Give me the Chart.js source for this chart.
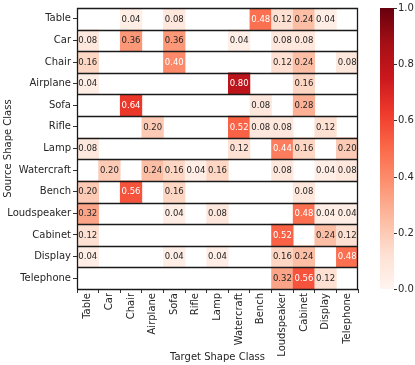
<!DOCTYPE html>
<html>
<head>
<meta charset="utf-8">
<script src="https://cdn.jsdelivr.net/npm/chart.js@4"></script>
<style>
  html, body { margin: 0; padding: 0; background: #fff; }
  #wrap { width: 415px; height: 365px; }
</style>
</head>
<body>
<div id="wrap"><canvas id="chartConfusao"></canvas></div>
<script>
const sourceClasses = ['Table', 'Car', 'Chair', 'Airplane', 'Sofa', 'Rifle', 'Lamp', 'Watercraft', 'Bench', 'Loudspeaker', 'Cabinet', 'Display', 'Telephone'];
const targetClasses = ['Table', 'Car', 'Chair', 'Airplane', 'Sofa', 'Rifle', 'Lamp', 'Watercraft', 'Bench', 'Loudspeaker', 'Cabinet', 'Display', 'Telephone'];

// one row per source class, columns follow targetClasses (0 = empty cell)
const rowTable       = [0, 0, 0.04, 0, 0.08, 0, 0, 0, 0.48, 0.12, 0.24, 0.04, 0];
const rowCar         = [0.08, 0, 0.36, 0, 0.36, 0, 0, 0.04, 0, 0.08, 0.08, 0, 0];
const rowChair       = [0.16, 0, 0, 0, 0.40, 0, 0, 0, 0, 0.12, 0.24, 0, 0.08];
const rowAirplane    = [0.04, 0, 0, 0, 0, 0, 0, 0.80, 0, 0, 0.16, 0, 0];
const rowSofa        = [0, 0, 0.64, 0, 0, 0, 0, 0, 0.08, 0, 0.28, 0, 0];
const rowRifle       = [0, 0, 0, 0.20, 0, 0, 0, 0.52, 0.08, 0.08, 0, 0.12, 0];
const rowLamp        = [0.08, 0, 0, 0, 0, 0, 0, 0.12, 0, 0.44, 0.16, 0, 0.20];
const rowWatercraft  = [0, 0.20, 0, 0.24, 0.16, 0.04, 0.16, 0, 0, 0.08, 0, 0.04, 0.08];
const rowBench       = [0.20, 0, 0.56, 0, 0.16, 0, 0, 0, 0, 0, 0.08, 0, 0];
const rowLoudspeaker = [0.32, 0, 0, 0, 0.04, 0, 0.08, 0, 0, 0, 0.48, 0.04, 0.04];
const rowCabinet     = [0.12, 0, 0, 0, 0, 0, 0, 0, 0, 0.52, 0, 0.24, 0.12];
const rowDisplay     = [0.04, 0, 0, 0, 0.04, 0, 0.04, 0, 0, 0.16, 0.24, 0, 0.48];
const rowTelephone   = [0, 0, 0, 0, 0, 0, 0, 0, 0, 0.32, 0.56, 0.12, 0];

const matriz = [rowTable, rowCar, rowChair, rowAirplane, rowSofa, rowRifle, rowLamp,
  rowWatercraft, rowBench, rowLoudspeaker, rowCabinet, rowDisplay, rowTelephone];

const colorbarTicks = [0, 0.2, 0.4, 0.6, 0.8, 1.0];

// matplotlib "Reds"
const redsStops = ['#fff5f0', '#fee0d2', '#fcbba1', '#fc9272', '#fb6a4a', '#ef3b2c', '#cb181d', '#a50f15', '#67000d'];

const hexToRgb = (h) => [1, 3, 5].map(i => parseInt(h.substr(i, 2), 16));

const reds = (v) => {
    const t = Math.max(0, Math.min(1, v)) * (redsStops.length - 1);
    const i = Math.min(Math.floor(t), redsStops.length - 2);
    const f = t - i;
    const a = hexToRgb(redsStops[i]), b = hexToRgb(redsStops[i + 1]);
    const c = a.map((x, k) => Math.round(x + (b[k] - x) * f));
    return `rgb(${c[0]},${c[1]},${c[2]})`;
};

const FONT = 'DejaVu Sans';

const datasets = matriz.map((linha, r) => ({
    label: sourceClasses[r],
    data: linha.map(v => v > 0 ? [r, r + 1] : null),
    backgroundColor: linha.map(v => reds(v)),
    borderWidth: 0,
    barPercentage: 1,
    categoryPercentage: 1,
    grouped: false
}));

const gridLinhas = {
    id: 'gridLinhas',
    afterDatasetsDraw(chart) {
        const { ctx, chartArea: a, scales: { y } } = chart;
        ctx.save();
        ctx.strokeStyle = '#1a1a1a';
        ctx.lineWidth = 1.3;
        for (let i = 0; i <= sourceClasses.length; i++) {
            const py = Math.round(y.getPixelForValue(i)) + 0.5;
            ctx.beginPath();
            ctx.moveTo(a.left, py);
            ctx.lineTo(a.right, py);
            ctx.stroke();
        }
        ctx.beginPath();
        ctx.moveTo(a.left + 0.5, a.top);
        ctx.lineTo(a.left + 0.5, a.bottom);
        ctx.moveTo(a.right - 0.5, a.top);
        ctx.lineTo(a.right - 0.5, a.bottom);
        ctx.stroke();

        // valores nas celulas
        const { x } = chart.scales;
        ctx.font = `8.5px "${FONT}"`;
        ctx.textAlign = 'center';
        ctx.textBaseline = 'middle';
        matriz.forEach((linha, r) => {
            linha.forEach((v, c) => {
                if (!(v > 0)) return;
                ctx.fillStyle = v >= 0.4 ? '#ffffff' : '#262626';
                ctx.fillText(v.toFixed(2), x.getPixelForValue(c), y.getPixelForValue(r + 0.5) + 0.5);
            });
        });
        ctx.restore();
    }
};

const colorbar = {
    id: 'colorbar',
    afterDraw(chart) {
        const { ctx, chartArea: a } = chart;
        const x0 = 380, w = 14;
        const top = a.top, bottom = a.bottom;
        ctx.save();
        const grad = ctx.createLinearGradient(0, bottom, 0, top);
        redsStops.forEach((c, i) => grad.addColorStop(i / (redsStops.length - 1), c));
        ctx.fillStyle = grad;
        ctx.fillRect(x0, top, w, bottom - top);
        ctx.strokeStyle = '#333';
        ctx.lineWidth = 1;
        ctx.fillStyle = '#262626';
        ctx.font = `10px "${FONT}"`;
        ctx.textAlign = 'left';
        ctx.textBaseline = 'middle';
        colorbarTicks.forEach(t => {
            const py = Math.round(bottom - t * (bottom - top)) + 0.5;
            ctx.beginPath();
            ctx.moveTo(x0 + w, py);
            ctx.lineTo(x0 + w + 3, py);
            ctx.stroke();
            ctx.fillText(t.toFixed(1), x0 + w + 4, py);
        });
        ctx.restore();
    }
};

const initChartConfusao = () => {
    const ctx = document.getElementById('chartConfusao').getContext('2d');
    return new Chart(ctx, {
        type: 'bar',
        data: { labels: targetClasses, datasets },
        options: {
            responsive: true,
            maintainAspectRatio: false,
            animation: false,
            layout: { padding: { left: 0, right: 57, top: 5, bottom: 0 } },
            plugins: { legend: { display: false }, tooltip: { enabled: false } },
            scales: {
                x: {
                    type: 'category',
                    offset: true,
                    grid: { display: true, drawOnChartArea: false, drawTicks: true, tickLength: 4, color: '#333' },
                    border: { display: false },
                    ticks: { minRotation: 90, maxRotation: 90, autoSkip: false, padding: 0, color: '#262626', font: { family: FONT, size: 10 } },
                    title: { display: true, text: 'Target Shape Class', color: '#262626', font: { family: FONT, size: 10 }, padding: { top: 0, bottom: 2 } },
                    afterFit: (s) => { s.height = 76; }
                },
                y: {
                    type: 'linear',
                    min: 0,
                    max: sourceClasses.length,
                    reverse: true,
                    afterBuildTicks: (s) => { s.ticks = sourceClasses.map((_, i) => ({ value: i + 0.5 })); },
                    grid: { display: true, drawOnChartArea: false, drawTicks: true, tickLength: 4, color: '#333' },
                    border: { display: false },
                    ticks: {
                        autoSkip: false,
                        padding: 2,
                        color: '#262626',
                        font: { family: FONT, size: 10 },
                        callback: (v) => sourceClasses[Math.floor(v)]
                    },
                    title: { display: true, text: 'Source Shape Class', color: '#262626', font: { family: FONT, size: 10 }, padding: { top: 2, bottom: 0 } },
                    afterFit: (s) => { s.width = 77; }
                }
            }
        },
        plugins: [gridLinhas, colorbar]
    });
};

const chartConfusao = initChartConfusao();
</script>
</body>
</html>
